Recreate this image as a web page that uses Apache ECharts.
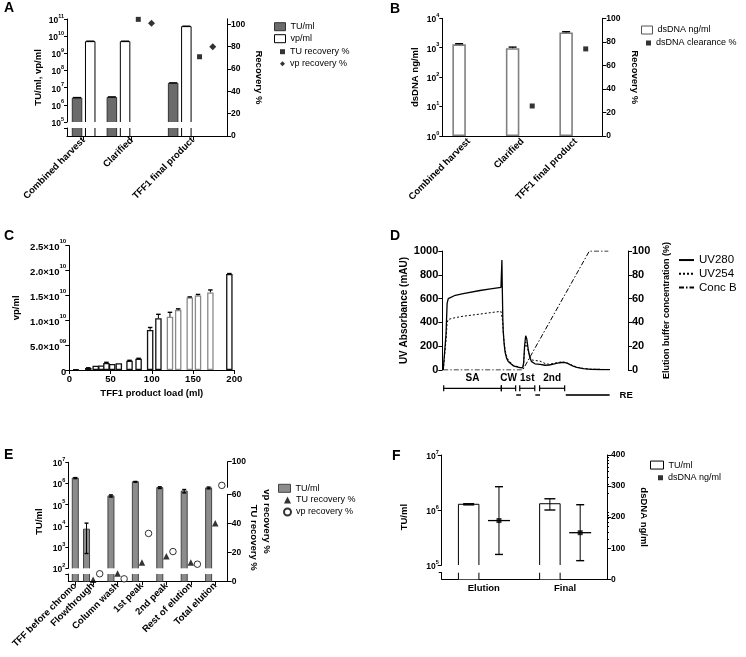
<!DOCTYPE html>
<html><head><meta charset="utf-8">
<script src="https://cdn.jsdelivr.net/npm/echarts@6.0.0/dist/echarts.min.js"></script>
<style>html,body{margin:0;padding:0;background:#fff}#c{width:746px;height:657px}</style>
</head><body><div id="c"></div>
<script>
const FONT = '"Liberation Sans", Arial, Helvetica, sans-serif';

// ---------------- Panel A data ----------------
const aCategories = ['Combined harvest', 'Clarified', 'TFF1 final product'];
const aTUml = [2.5e6, 2.7e6, 1.8e7];
const aTUmlErr = [0.15e6, 0.2e6, 0.1e7];
const aVPml = [4.8e9, 4.8e9, 3.6e10];
const aVPmlErr = [0.3e9, 0.3e9, 0.2e10];
const aTURecovery = [null, 104.5, 71];
const aVPRecovery = [null, 101, 80];
const aRecoveryTicks = [0, 20, 40, 60, 80, 100];

// ---------------- Panel B data ----------------
const bCategories = ['Combined harvest', 'Clarified', 'TFF1 final product'];
const bDsDNA = [1300, 960, 3300];
const bDsDNAErr = [70, 90, 200];
const bClearance = [null, 25.5, 74];

// ---------------- Panel C data ----------------
const cLoadMl = [8, 23, 32, 39, 45, 52, 60, 73, 84, 98, 108, 122, 132, 146, 156, 171, 194];
const cVPml = [0.15e9, 0.4e9, 0.85e9, 0.9e9, 1.4e9, 1.2e9, 1.35e9, 1.85e9, 2.25e9, 8.05e9, 10.4e9, 10.7e9, 12.1e9, 14.6e9, 15.0e9, 15.6e9, 19.3e9];
const cVPmlErr = [0, 0.05e9, 0, 0, 0.15e9, 0, 0, 0.1e9, 0.1e9, 0.5e9, 0.8e9, 0.9e9, 0.2e9, 0.1e9, 0.2e9, 0.5e9, 0.1e9];
const cRun = [1, 1, 1, 1, 1, 1, 1, 1, 1, 1, 1, 2, 2, 2, 2, 2, 1];

// ---------------- Panel D data ----------------
const dVolume = [0.5, 1.4, 2.0, 2.6, 3.2, 4.1, 7, 11.3, 20.3, 26, 31.6, 31.9, 32.1, 32.3, 32.6, 32.8, 33.3, 33.8, 34.6, 35.5, 38.2, 41.8, 43.3, 43.8, 44.3, 44.9, 45.5, 46.3, 47.2, 48.1, 49.9, 52.6, 55.3, 57.5, 59.8, 62, 64.3, 66.1, 67.5, 68.8, 70.5, 72.4, 75.9, 80, 85, 90.3];
const dUV280 = [0, 0, 300, 560, 600, 615, 628, 642, 668, 682, 695, 700, 925, 700, 420, 330, 220, 150, 100, 72, 35, 20, 18, 60, 200, 288, 260, 170, 100, 70, 52, 48, 40, 42, 50, 58, 63, 62, 55, 45, 32, 22, 11, 6, 4, 3];
const dUV254 = [0, 0, 250, 400, 425, 432, 440, 452, 470, 482, 493, 497, 500, 497, 400, 320, 230, 170, 120, 85, 40, 22, 18, 50, 170, 235, 225, 160, 110, 85, 80, 75, 55, 48, 55, 62, 68, 65, 58, 48, 35, 25, 13, 7, 5, 4];
const dConcVolume = [0.5, 43.3, 79.2, 89.4];
const dConcB = [0, 0, 100, 100];
const dFracLabel = ['SA', 'CW', '1st', '2nd', '', '', 'RE'];
const dFracStart = [0.75, 31.8, 41.7, 52.4, 39.8, 50.1, 66.5];
const dFracEnd = [31.8, 39.5, 49.8, 65.9, 42.4, 52.6, 90.1];
const dFracRow = [1, 1, 1, 1, 2, 2, 2];

// ---------------- Panel E data ----------------
const eCategories = ['TFF before chromo', 'Flowthrough', 'Column wash', '1st peak', '2nd peak', 'Rest of elution', 'Total elution'];
const eTUml = [1.8e6, 7.0e3, 2.6e5, 1.2e6, 6.4e5, 4.4e5, 6.2e5];
const eTUmlErr = [0.1e6, 6.5e3, 0.3e5, 0.05e6, 0.6e5, 0.8e5, 0.6e5];
const eTURecovery = [null, 1, 5.4, 13, 17.2, 13, 40];
const eVPRecovery = [null, 5.2, 1.7, 33, 20.5, 11.8, 63];

// ---------------- Panel F data ----------------
const fCategories = ['Elution', 'Final'];
const fTUml = [1.27e6, 1.3e6];
const fTUmlErr = [0.03e6, 0.3e6];
const fDsDNA = [189, 150];
const fDsDNAErr = [109, 90];

// ---------------- helpers ----------------
function merge(a, b) {
  const out = Object.assign({}, a);
  for (const k in b) {
    const v = b[k];
    if (v && typeof v === 'object' && !Array.isArray(v) && out[k] && typeof out[k] === 'object' && !Array.isArray(out[k])) out[k] = merge(out[k], v);
    else out[k] = v;
  }
  return out;
}
const AX = {
  axisLine: {show: true, onZero: false, lineStyle: {color: '#000', width: 1}},
  axisTick: {show: true, length: 3, lineStyle: {color: '#000', width: 1}},
  axisLabel: {show: true, color: '#000', fontFamily: FONT, fontWeight: 'bold', fontSize: 8.5, margin: 3},
  splitLine: {show: false},
  minorSplitLine: {show: false},
  nameLocation: 'middle',
  nameTextStyle: {color: '#000', fontFamily: FONT, fontWeight: 'bold', fontSize: 9.5}
};
const HIDDEN = {axisLine: {show: false}, axisTick: {show: false}, axisLabel: {show: false}, splitLine: {show: false}};
const grid = [], xAxis = [], yAxis = [], series = [], legend = [], title = [];
function G(left, top, width, height) { grid.push({left, top, width, height}); return grid.length - 1; }
function X(g, o) { xAxis.push(merge(merge(AX, {gridIndex: g, type: 'value'}), o)); return xAxis.length - 1; }
function Y(g, o) { yAxis.push(merge(merge(AX, {gridIndex: g, type: 'value'}), o)); return yAxis.length - 1; }
function XH(g, min, max) { return X(g, {min, max, show: false}); }

function rich(fs) {
  return {
    m: {fontSize: fs, fontWeight: 'bold', fontFamily: FONT, color: '#000', verticalAlign: 'bottom', padding: [Math.round(fs * 0.4), 0, 0, 0]},
    s: {fontSize: Math.round(fs * 6.5) / 10, fontWeight: 'bold', fontFamily: FONT, color: '#000', verticalAlign: 'top'}
  };
}
const decadeFmt = v => `{m|10}{s|${Math.round(Math.log10(v))}}`;
const sciFmt = v => {
  if (v === 0) return '{m|0}';
  const e = Math.floor(Math.log10(v) + 1e-9);
  const m = v / Math.pow(10, e);
  return `{m|${m.toFixed(1)}×10}{s|${String(e).padStart(2, '0')}}`;
};
function catFmt(centers, cats) {
  return v => {
    let best = -1, bd = 1e9;
    centers.forEach((c, i) => { const d = Math.abs(c - v); if (d < bd) { bd = d; best = i; } });
    return bd < 0.05 ? cats[best] : '';
  };
}
// Prism-like grouped layout: each present item takes one slot, groups separated by a gap
function packGroups(presence, pad, gap) {
  const centers = [], pos = [];
  let start = pad;
  presence.forEach(row => {
    const n = row.filter(Boolean).length;
    let k = 0;
    pos.push(row.map(p => p ? start + (k++) : null));
    centers.push(start + (n - 1) / 2);
    start += n + gap;
  });
  return {centers, col: k => pos.map(p => p[k])};
}
function barS(name, xi, yi, xs, vals, style, bw, z) {
  series.push({name, type: 'bar', xAxisIndex: xi, yAxisIndex: yi, barWidth: bw, barGap: '-100%', clip: true,
    data: vals.map((v, i) => v == null ? null : [xs[i], v]).filter(Boolean),
    itemStyle: style, emphasis: {disabled: true}, z: z || 2});
}
// open outline for bars cut by an axis break (no edge drawn at the break)
function outlineS(name, xi, yi, xs, vals, bw, stroke, stub) {
  series.push({name, type: 'custom', xAxisIndex: xi, yAxisIndex: yi, silent: true, clip: false, z: 3,
    data: vals.map((v, i) => v == null ? null : [xs[i], v]).filter(Boolean), encode: {x: 0, y: 1},
    renderItem: (p, api) => {
      const cs = p.coordSys;
      const c = api.coord([api.value(0), api.value(1)]);
      const bot = cs.y + cs.height;
      const top = stub ? cs.y : Math.max(cs.y, c[1]);
      const l = c[0] - bw / 2, r = c[0] + bw / 2;
      const st = {stroke, lineWidth: 1, fill: null};
      if (stub) return {type: 'group', children: [
        {type: 'line', shape: {x1: l, y1: top, x2: l, y2: bot}, style: st},
        {type: 'line', shape: {x1: r, y1: top, x2: r, y2: bot}, style: st}]};
      return {type: 'polyline', shape: {points: [[l, bot], [l, top], [r, top], [r, bot]]}, style: st};
    }});
}
function errS(name, xi, yi, xs, vals, errs, capW, both, meanW) {
  const data = [];
  vals.forEach((v, i) => { if (v == null || !errs[i]) return; data.push([xs[i], both ? v - errs[i] : v, v + errs[i], v]); });
  series.push({name, type: 'custom', xAxisIndex: xi, yAxisIndex: yi, data, encode: {x: 0, y: [1, 2]}, z: 5, silent: true, clip: false,
    renderItem: (p, api) => {
      const x = api.value(0);
      const hi = api.coord([x, api.value(2)]), lo = api.coord([x, api.value(1)]), mid = api.coord([x, api.value(3)]);
      const L = (x1, y1, x2, y2, w) => ({type: 'line', shape: {x1, y1, x2, y2}, style: {stroke: '#000', lineWidth: w || 1}});
      const ch = [L(hi[0], hi[1], lo[0], lo[1]), L(hi[0] - capW / 2, hi[1], hi[0] + capW / 2, hi[1], 1.4)];
      if (both) ch.push(L(lo[0] - capW / 2, lo[1], lo[0] + capW / 2, lo[1], 1.4));
      if (meanW) ch.push(L(mid[0] - meanW / 2, mid[1], mid[0] + meanW / 2, mid[1], 1.3));
      return {type: 'group', children: ch};
    }});
}
function scatS(name, xi, yi, xs, vals, symbol, size, style) {
  series.push({name, type: 'scatter', xAxisIndex: xi, yAxisIndex: yi, symbol, symbolSize: size, clip: true, z: 6,
    data: vals.map((v, i) => v == null ? null : [xs[i], v]).filter(Boolean), itemStyle: style, emphasis: {disabled: true}});
}
function leg(left, top, names, opts) {
  legend.push(merge({left, top, orient: 'vertical', padding: 0, itemGap: 0, itemWidth: 11, itemHeight: 8, data: names,
    selectedMode: false, formatter: n => n.slice(n.indexOf(':') + 1),
    textStyle: {fontFamily: FONT, fontSize: 9, color: '#000', lineHeight: 12}}, opts || {}));
}
const boxItem = (name, fill, stroke) => ({name, icon: 'rect', itemStyle: {color: fill, borderColor: stroke, borderWidth: 1}});
const GREY_FILL = {color: '#6b6b6b', borderWidth: 0};
const WHITE_FILL = {color: '#fff', borderWidth: 0};
const LIGHT_GREY_FILL = {color: '#8c8c8c', borderWidth: 0};

// ================= Panel A =================
const aLay = packGroups(aCategories.map((_, i) => [aTUml[i] != null, aVPml[i] != null, aTURecovery[i] != null, aVPRecovery[i] != null]), 0.76, 0.64);
const A_MAX = 12.12;
const gAf = G(67, 18.8, 160, 117.2), gAu = G(67, 19, 160, 103), gAl = G(67, 128, 160, 8);
const xAf = X(gAf, {min: 0, max: A_MAX, axisTick: {customValues: aLay.centers, length: 4},
  axisLabel: {customValues: aLay.centers, formatter: catFmt(aLay.centers, aCategories), rotate: 45, fontSize: 9.5, margin: 3}});
const yAr = Y(gAf, {position: 'right', min: 0, max: 105, axisTick: {customValues: aRecoveryTicks, length: 4},
  axisLabel: {customValues: aRecoveryTicks, margin: 4}, name: 'Recovery %', nameRotate: -90, nameGap: 26.5});
Y(gAf, merge(HIDDEN, {position: 'left', min: 0, max: 1, name: 'TU/ml, vp/ml', nameRotate: 90, nameGap: 24}));
const xAu = XH(gAu, 0, A_MAX);
const yAu = Y(gAu, {type: 'log', logBase: 10, min: 1e5, max: 1e11, axisLabel: {formatter: decadeFmt, rich: rich(8.5)}});
const xAl = XH(gAl, 0, A_MAX);
const yAl = Y(gAl, {min: 0, max: 1, axisTick: {customValues: [1], length: 3}, axisLabel: {show: false}});
barS('A:TU/ml', xAu, yAu, aLay.col(0), aTUml, GREY_FILL, 9.5);
barS('A:vp/ml', xAu, yAu, aLay.col(1), aVPml, WHITE_FILL, 9.5);
barS('A:TU/ml stub', xAl, yAl, aLay.col(0), aTUml, GREY_FILL, 9.5);
barS('A:vp/ml stub', xAl, yAl, aLay.col(1), aVPml, WHITE_FILL, 9.5);
outlineS('A:TU outline', xAu, yAu, aLay.col(0), aTUml, 9.5, '#333', false);
outlineS('A:vp outline', xAu, yAu, aLay.col(1), aVPml, 9.5, '#000', false);
outlineS('A:TU stub outline', xAl, yAl, aLay.col(0), aTUml, 9.5, '#333', true);
outlineS('A:vp stub outline', xAl, yAl, aLay.col(1), aVPml, 9.5, '#000', true);
errS('A:TU err', xAu, yAu, aLay.col(0), aTUml, aTUmlErr, 8, false);
errS('A:vp err', xAu, yAu, aLay.col(1), aVPml, aVPmlErr, 8, false);
scatS('A:TU recovery %', xAf, yAr, aLay.col(2), aTURecovery, 'rect', 5, {color: '#000'});
scatS('A:vp recovery %', xAf, yAr, aLay.col(3), aVPRecovery, 'diamond', 7, {color: '#000'});
leg(274, 20.7, [boxItem('A:TU/ml', '#6b6b6b', '#333'), boxItem('A:vp/ml', '#fff', '#000')]);
leg(280, 45.7, ['A:TU recovery %', 'A:vp recovery %'], {itemWidth: 5, itemHeight: 5});

// ================= Panel B =================
const bLay = packGroups(bCategories.map(() => [true, true]), 0.857, 0.73);
const gB = G(442.3, 18.3, 160, 117.7);
const xB = X(gB, {min: 0, max: 8.163, axisTick: {show: false},
  axisLabel: {customValues: bLay.centers, formatter: catFmt(bLay.centers, bCategories), rotate: 45, fontSize: 9.5, margin: 4}});
const yBl = Y(gB, {type: 'log', logBase: 10, min: 1, max: 1e4, axisLabel: {formatter: decadeFmt, rich: rich(8.5)},
  name: 'dsDNA ng/ml', nameRotate: 90, nameGap: 21.5});
const yBr = Y(gB, {position: 'right', min: 0, max: 100, interval: 20, axisTick: {length: 4}, axisLabel: {margin: 4},
  name: 'Recovery %', nameRotate: -90, nameGap: 27.6});
barS('B:dsDNA ng/ml', xB, yBl, bLay.col(0), bDsDNA, {color: '#fff', borderColor: '#808080', borderWidth: 1.6}, 13.5);
errS('B:err', xB, yBl, bLay.col(0), bDsDNA, bDsDNAErr, 8, false);
scatS('B:dsDNA clearance %', xB, yBr, bLay.col(1), bClearance, 'rect', 5, {color: '#000'});
leg(641, 23.5, [boxItem('B:dsDNA ng/ml', '#fff', '#555')], {textStyle: {lineHeight: 13}});
leg(646, 36.5, ['B:dsDNA clearance %'], {itemWidth: 5, itemHeight: 5, textStyle: {lineHeight: 13}});

// ================= Panel C =================
const gC = G(69.3, 245.7, 165, 124.3);
const xC = X(gC, {min: 0, max: 200, interval: 50, axisTick: {length: 4}, axisLabel: {fontSize: 9.5, margin: 4},
  name: 'TFF1 product load (ml)', nameGap: 18});
const yC = Y(gC, {min: 0, max: 2.5e10, interval: 5e9, axisTick: {length: 4}, axisLabel: {formatter: sciFmt, rich: rich(9.5), margin: 3},
  name: 'vp/ml', nameRotate: 90, nameGap: 47.5});
series.push({name: 'C:vp/ml', type: 'bar', xAxisIndex: xC, yAxisIndex: yC, barWidth: 6.5, z: 2,
  data: cLoadMl.map((x, i) => ({value: [x, cVPml[i]], itemStyle: {borderColor: cRun[i] === 2 ? '#8a8a8a' : '#111'}})),
  itemStyle: {color: '#fff', borderWidth: 1.3}, emphasis: {disabled: true}});
errS('C:err', xC, yC, cLoadMl, cVPml, cVPmlErr, 4.5, false);

// ================= Panel D =================
const gD = G(442.3, 251, 185.7, 119);
const xD = XH(gD, 0, 100);
const yDl = Y(gD, {min: 0, max: 1000, interval: 200, axisTick: {length: 4}, axisLabel: {fontSize: 11, margin: 4, formatter: v => String(v)},
  name: 'UV Absorbance (mAU)', nameRotate: 90, nameGap: 32.6, nameTextStyle: {fontSize: 10}});
const yDr = Y(gD, {position: 'right', min: 0, max: 100, interval: 20, axisTick: {length: 4}, axisLabel: {fontSize: 11, margin: 4},
  name: 'Elution buffer concentration (%)', nameRotate: 90, nameGap: 33.8, nameTextStyle: {fontSize: 9}});
series.push({name: 'D:UV280', type: 'line', xAxisIndex: xD, yAxisIndex: yDl, symbol: 'none', z: 4,
  data: dVolume.map((x, i) => [x, dUV280[i]]), lineStyle: {color: '#000', width: 1.3, type: 'solid'}, itemStyle: {color: '#000'}});
series.push({name: 'D:UV254', type: 'line', xAxisIndex: xD, yAxisIndex: yDl, symbol: 'none', z: 3,
  data: dVolume.map((x, i) => [x, dUV254[i]]), lineStyle: {color: '#000', width: 1, type: [2, 2]}, itemStyle: {color: '#000'}});
series.push({name: 'D:Conc B', type: 'line', xAxisIndex: xD, yAxisIndex: yDr, symbol: 'none', z: 3,
  data: dConcVolume.map((x, i) => [x, dConcB[i]]), lineStyle: {color: '#000', width: 1, type: [5, 2, 1.5, 2]}, itemStyle: {color: '#000'}});
leg(678, 253.2, ['D:UV280', 'D:UV254', 'D:Conc B'], {itemWidth: 15, itemHeight: 8, itemStyle: {opacity: 0},
  textStyle: {fontSize: 11.5, lineHeight: 13.7}});
const gD2 = G(442.3, 381.6, 185.7, 20.1);
const xD2 = XH(gD2, 0, 100);
const yD2 = Y(gD2, {min: 0, max: 3, inverse: true, show: false});
series.push({name: 'D:fractions', type: 'custom', xAxisIndex: xD2, yAxisIndex: yD2, silent: true, clip: false, z: 5,
  data: dFracStart.map((s, i) => [s, dFracEnd[i], dFracRow[i], i]), encode: {x: [0, 1], y: 2},
  renderItem: (p, api) => {
    const i = api.value(3), row = api.value(2);
    const a = api.coord([api.value(0), row]), b = api.coord([api.value(1), row]);
    const L = (x1, y1, x2, y2, w, c) => ({type: 'line', shape: {x1, y1, x2, y2}, style: {stroke: c || '#000', lineWidth: w}});
    const ch = [];
    const txt = {fontFamily: FONT, fontWeight: 'bold', fill: '#000'};
    if (row === 1) {
      ch.push(L(a[0], a[1], b[0], b[1], 1.2));
      ch.push(L(a[0], a[1] - 3, a[0], a[1] + 3, 1.2));
      ch.push(L(b[0], b[1] - 3, b[0], b[1] + 3, 1.2));
      ch.push({type: 'text', x: (a[0] + b[0]) / 2, y: a[1] - 10, style: Object.assign({text: dFracLabel[i], fontSize: 10, align: 'center', verticalAlign: 'middle'}, txt)});
    } else {
      ch.push(L(a[0], a[1], b[0], b[1], 1.8, '#333'));
      if (dFracLabel[i]) ch.push({type: 'text', x: b[0] + 10, y: b[1], style: Object.assign({text: dFracLabel[i], fontSize: 9.5, align: 'left', verticalAlign: 'middle'}, txt)});
    }
    return {type: 'group', children: ch};
  }});

// ================= Panel E =================
const eLay = packGroups(eCategories.map((_, i) => [eTUml[i] != null, eTURecovery[i] != null, eVPRecovery[i] != null]), 1.06, 0.7);
const E_MAX = 24.15;
const gEf = G(68.3, 461.7, 159.4, 119.6);
const xEf = X(gEf, {min: 0, max: E_MAX, axisTick: {customValues: eLay.centers, length: 4},
  axisLabel: {customValues: eLay.centers, formatter: catFmt(eLay.centers, eCategories), rotate: 45, fontSize: 9.5, margin: 3}});
Y(gEf, merge(HIDDEN, {min: 0, max: 1, name: 'TU/ml', nameRotate: 90, nameGap: 23.5}));
Y(gEf, merge(HIDDEN, {position: 'right', min: 0, max: 1, name: 'vp recovery %', nameRotate: -90, nameGap: 34.2}));
const gEu = G(68.3, 462.3, 159.4, 106);
const xEu = XH(gEu, 0, E_MAX);
const yEu = Y(gEu, {type: 'log', logBase: 10, min: 1e2, max: 1e7, axisLabel: {formatter: decadeFmt, rich: rich(8.5)}});
const gEl = G(68.3, 574, 159.4, 7.3);
const xEl = XH(gEl, 0, E_MAX);
const yEl = Y(gEl, {min: 0, max: 1, axisTick: {customValues: [1], length: 3}, axisLabel: {show: false}});
const gErl = G(68.3, 494.3, 159.4, 87);
const xErl = XH(gErl, 0, E_MAX);
const yErl = Y(gErl, {position: 'right', min: 0, max: 60, axisTick: {customValues: [0, 20, 40, 60], length: 4},
  axisLabel: {customValues: [0, 20, 40, 60], margin: 4}, name: 'TU recovery %', nameRotate: -90, nameGap: 20.9});
const gEru = G(68.3, 461.7, 159.4, 25.6);
const xEru = XH(gEru, 0, E_MAX);
const yEru = Y(gEru, {position: 'right', min: 60, max: 100, axisTick: {customValues: [100], length: 4},
  axisLabel: {customValues: [100], margin: 4}});
barS('E:TU/ml', xEu, yEu, eLay.col(0), eTUml, LIGHT_GREY_FILL, 6);
barS('E:TU/ml stub', xEl, yEl, eLay.col(0), eTUml, LIGHT_GREY_FILL, 6);
outlineS('E:outline', xEu, yEu, eLay.col(0), eTUml, 6, '#444', false);
outlineS('E:stub outline', xEl, yEl, eLay.col(0), eTUml, 6, '#444', true);
errS('E:err', xEu, yEu, eLay.col(0), eTUml, eTUmlErr, 4, true);
const TRI = {color: '#000'}, CIRC = {color: '#fff', borderColor: '#000', borderWidth: 1};
scatS('E:TU recovery %', xErl, yErl, eLay.col(1), eTURecovery, 'triangle', 6.5, TRI);
scatS('E:TU recovery % upper', xEru, yEru, eLay.col(1), eTURecovery, 'triangle', 6.5, TRI);
scatS('E:vp recovery %', xErl, yErl, eLay.col(2), eVPRecovery, 'circle', 6.5, CIRC);
scatS('E:vp recovery % upper', xEru, yEru, eLay.col(2), eVPRecovery, 'circle', 6.5, CIRC);
leg(278, 482.3, [boxItem('E:TU/ml', '#8c8c8c', '#444')], {itemWidth: 12});
leg(283, 494, ['E:TU recovery %', 'E:vp recovery %'], {itemWidth: 7, itemHeight: 7});

// ================= Panel F =================
const fLay = packGroups(fCategories.map(() => [true, true]), 0.89, 0.68);
const F_MAX = 5.455;
const gFf = G(441.7, 455, 165.3, 124.3);
const xFf = X(gFf, {min: 0, max: F_MAX, axisTick: {show: false},
  axisLabel: {customValues: fLay.centers, formatter: catFmt(fLay.centers, fCategories), fontSize: 9.5, margin: 4}});
const yFr = Y(gFf, {position: 'right', min: 0, max: 400, interval: 100, axisTick: {length: 4}, axisLabel: {margin: 4},
  name: 'dsDNA ng/ml', nameRotate: -90, nameGap: 31.3});
Y(gFf, merge(HIDDEN, {min: 0, max: 1, name: 'TU/ml', nameRotate: 90, nameGap: 32.2}));
const gFu = G(441.7, 455, 165.3, 110);
const xFu = XH(gFu, 0, F_MAX);
const yFu = Y(gFu, {type: 'log', logBase: 10, min: 1e5, max: 1e7, axisTick: {length: 4}, axisLabel: {formatter: decadeFmt, rich: rich(8.5)}});
const fMinor = [];
[1e5, 1e6].forEach(d => { for (let k = 2; k <= 9; k++) fMinor.push(k * d); });
Y(gFu, merge(HIDDEN, {type: 'log', logBase: 10, min: 1e5, max: 1e7, axisTick: {show: true, customValues: fMinor, length: 2}}));
const gFl = G(441.7, 572.7, 165.3, 6.6);
const xFl = XH(gFl, 0, F_MAX);
const yFl = Y(gFl, {min: 0, max: 1, axisTick: {customValues: [1], length: 3}, axisLabel: {show: false}});
barS('F:TU/ml', xFu, yFu, fLay.col(0), fTUml, WHITE_FILL, 20.5);
barS('F:TU/ml stub', xFl, yFl, fLay.col(0), fTUml, WHITE_FILL, 20.5);
outlineS('F:outline', xFu, yFu, fLay.col(0), fTUml, 20.5, '#000', false);
outlineS('F:stub outline', xFl, yFl, fLay.col(0), fTUml, 20.5, '#000', true);
errS('F:bar err', xFu, yFu, fLay.col(0), fTUml, fTUmlErr, 11, true);
scatS('F:dsDNA ng/ml', xFf, yFr, fLay.col(1), fDsDNA, 'rect', 5, {color: '#000'});
errS('F:dna err', xFf, yFr, fLay.col(1), fDsDNA, fDsDNAErr, 8, true, 22);
leg(650, 458.7, [boxItem('F:TU/ml', '#fff', '#000')], {itemWidth: 13, textStyle: {lineHeight: 12.7}});
leg(658, 471.4, ['F:dsDNA ng/ml'], {itemWidth: 5, itemHeight: 5, textStyle: {lineHeight: 12.7}});

// ================= Panel letters =================
const panelLetters = ['A', 'B', 'C', 'D', 'E', 'F'];
const letterPos = [[4, 1], [390, 2], [4, 229.5], [390, 229.5], [4, 448.5], [392, 449.5]];
panelLetters.forEach((t, i) => title.push({text: t, left: letterPos[i][0], top: letterPos[i][1], padding: 0,
  textStyle: {fontFamily: FONT, fontWeight: 'bold', fontSize: 14, color: '#000'}}));

const chart = echarts.init(document.getElementById('c'), null, {renderer: 'canvas', devicePixelRatio: 1});
chart.setOption({animation: false, backgroundColor: '#fff', title, grid, xAxis, yAxis, series, legend, tooltip: {show: false}});
</script></body></html>
